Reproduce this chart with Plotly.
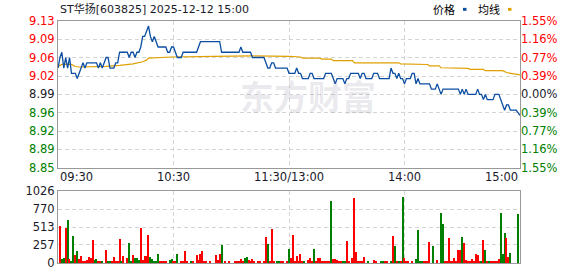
import plotly.graph_objects as go

# ---------------- data ----------------
title_text = "ST华扬[603825] 2025-12-12 15:00"
prev_close = 8.99
max_pct = 1.55

# price line keypoints (minutes since 09:30, lunch removed; 120 = 11:30/13:00)
price_t = [0, 1, 2, 3, 4, 5, 6, 7, 9, 10, 11, 12, 13, 14, 15, 20, 21, 22, 23, 24,
           25, 26, 27, 29, 30, 31, 32, 36, 37, 38, 39, 40, 41, 42, 43, 44, 45, 46, 47, 48,
           49, 50, 51, 52, 56, 57, 58, 59, 60, 61, 62, 64, 65, 72, 73, 74, 84, 85, 94, 95,
           96, 100, 101, 107, 108, 109, 110, 111, 112, 113, 119, 120, 123, 124, 125, 126, 127, 130, 131, 132,
           133, 138, 139, 142, 143, 144, 145, 148, 149, 150, 151, 152, 156, 157, 158, 159, 160, 163, 164, 166,
           167, 172, 173, 174, 175, 176, 177, 178, 179, 180, 181, 183, 184, 185, 186, 187, 188, 193, 194, 196,
           197, 198, 199, 200, 208, 209, 210, 211, 212, 213, 217, 218, 219, 220, 221, 222, 223, 226, 227, 229,
           230, 231, 232, 233, 234, 235, 238, 240]
price_v = [9.04, 9.06, 9.07, 9.04, 9.06, 9.04, 9.06, 9.03, 9.03, 9.02, 9.03, 9.04, 9.05, 9.04, 9.05, 9.05, 9.04, 9.05, 9.04, 9.05,
           9.06, 9.06, 9.04, 9.04, 9.05, 9.05, 9.07, 9.07, 9.06, 9.07, 9.07, 9.06, 9.07, 9.07, 9.08, 9.10, 9.10, 9.11, 9.12, 9.10,
           9.09, 9.10, 9.09, 9.08, 9.08, 9.07, 9.07, 9.08, 9.08, 9.07, 9.06, 9.06, 9.07, 9.07, 9.08, 9.09, 9.09, 9.07, 9.07, 9.08,
           9.07, 9.07, 9.06, 9.06, 9.05, 9.04, 9.04, 9.05, 9.05, 9.04, 9.04, 9.03, 9.03, 9.04, 9.03, 9.03, 9.02, 9.02, 9.03, 9.03,
           9.02, 9.02, 9.03, 9.03, 9.02, 9.01, 9.02, 9.02, 9.01, 9.02, 9.02, 9.03, 9.03, 9.02, 9.03, 9.03, 9.02, 9.02, 9.03, 9.03,
           9.02, 9.02, 9.04, 9.03, 9.03, 9.02, 9.03, 9.02, 9.02, 9.01, 9.02, 9.02, 9.03, 9.03, 9.01, 9.02, 9.01, 9.01, 9.00, 9.00,
           9.01, 9.00, 8.99, 9.00, 9.00, 8.99, 9.00, 8.99, 9.00, 8.99, 8.99, 9.00, 8.99, 8.99, 8.98, 8.99, 8.98, 8.98, 8.99, 8.99,
           8.98, 8.97, 8.96, 8.97, 8.97, 8.96, 8.96, 8.95]

# average price line keypoints
avg_t = [0, 2, 7, 9, 11, 25, 32, 39, 44, 46, 47, 59, 81, 101, 120, 126, 127, 136, 137, 142, 143,
         153, 154, 177, 178, 180, 181, 192, 193, 198, 199, 208, 209, 213, 214, 221, 222, 231, 233, 238, 240]
avg_v = [9.043, 9.047, 9.047, 9.043, 9.042, 9.043, 9.045, 9.048, 9.052, 9.055, 9.059, 9.061, 9.062, 9.063, 9.062, 9.061, 9.059, 9.059, 9.057, 9.057, 9.054,
         9.054, 9.050, 9.050, 9.048, 9.048, 9.0467, 9.0467, 9.0443, 9.0443, 9.0406, 9.0406, 9.0393, 9.0393, 9.0375, 9.0375, 9.035, 9.035, 9.0315, 9.028, 9.027]

# volume bars (minute, volume, 1 = up/red, 0 = down/green)
vol_t = [1, 2, 3, 4, 5, 6, 7, 8, 9, 10, 11, 12, 13, 14, 15, 16, 17, 18, 19, 20,
         21, 22, 23, 25, 26, 27, 28, 29, 30, 31, 32, 33, 34, 36, 37, 38, 39, 40, 41, 42,
         43, 44, 45, 46, 47, 48, 49, 50, 51, 52, 53, 54, 55, 56, 58, 59, 60, 61, 62, 64,
         65, 66, 67, 69, 70, 72, 73, 74, 75, 76, 77, 79, 82, 83, 84, 85, 87, 89, 92, 93,
         94, 95, 96, 97, 98, 99, 100, 101, 102, 104, 105, 107, 108, 109, 110, 111, 112, 114, 115, 116,
         117, 119, 120, 121, 122, 123, 124, 125, 126, 127, 128, 130, 131, 132, 133, 134, 135, 136, 137, 138,
         139, 140, 141, 142, 143, 144, 145, 146, 147, 148, 149, 150, 151, 153, 154, 155, 156, 157, 158, 159,
         161, 164, 165, 168, 169, 170, 171, 173, 174, 175, 176, 177, 178, 179, 180, 181, 182, 184, 186, 187,
         188, 189, 190, 191, 192, 193, 195, 197, 199, 200, 201, 202, 203, 204, 205, 206, 207, 208, 209, 210,
         211, 212, 213, 214, 215, 216, 217, 218, 219, 220, 221, 222, 223, 224, 225, 226, 227, 228, 229, 230,
         231, 232, 233, 234, 235, 239]
vol_v = [522, 60, 74, 504, 615, 51, 18, 379, 115, 171, 60, 100, 18, 23, 46, 88, 74, 323, 46, 60,
         18, 18, 14, 185, 18, 28, 28, 88, 14, 18, 337, 28, 97, 74, 282, 14, 115, 74, 74, 46,
         504, 46, 100, 100, 393, 88, 51, 18, 28, 129, 28, 32, 18, 14, 46, 60, 18, 18, 129, 18,
         18, 171, 14, 18, 18, 115, 46, 129, 171, 18, 18, 14, 115, 37, 129, 254, 18, 18, 32, 18,
         18, 60, 32, 74, 88, 46, 32, 60, 14, 18, 18, 18, 365, 268, 14, 490, 14, 18, 18, 32,
         14, 14, 199, 74, 393, 18, 100, 18, 129, 18, 18, 46, 74, 18, 199, 18, 74, 74, 18, 18,
         18, 18, 18, 878, 60, 60, 46, 18, 18, 18, 18, 310, 18, 74, 933, 157, 32, 18, 18, 88,
         18, 46, 18, 18, 18, 32, 18, 18, 379, 240, 18, 18, 18, 947, 74, 18, 18, 18, 60, 476,
         18, 18, 18, 18, 18, 296, 240, 46, 711, 559, 18, 18, 351, 18, 18, 74, 32, 185, 185, 365,
         282, 46, 18, 18, 60, 18, 129, 115, 18, 18, 323, 185, 32, 18, 18, 18, 18, 18, 60, 711,
         129, 434, 351, 88, 143, 697]
vol_up = [1, 0, 0, 1, 0, 1, 0, 0, 1, 0, 1, 1, 1, 1, 1, 1, 1, 1, 0, 0,
          1, 1, 0, 1, 0, 0, 1, 1, 1, 1, 1, 0, 1, 1, 0, 0, 1, 0, 0, 0,
          1, 1, 1, 1, 1, 0, 0, 0, 0, 0, 1, 1, 1, 1, 0, 0, 1, 1, 0, 1,
          1, 1, 1, 0, 1, 1, 1, 1, 1, 1, 1, 1, 1, 1, 1, 0, 1, 1, 1, 1,
          1, 1, 1, 0, 0, 1, 1, 1, 1, 1, 1, 1, 1, 0, 1, 1, 1, 0, 0, 1,
          1, 1, 0, 1, 1, 1, 1, 1, 1, 1, 0, 1, 1, 1, 0, 1, 1, 1, 1, 1,
          1, 1, 1, 0, 1, 1, 1, 1, 1, 0, 0, 1, 1, 1, 1, 1, 1, 1, 1, 1,
          0, 1, 1, 0, 0, 1, 1, 0, 1, 0, 1, 0, 1, 0, 1, 1, 1, 1, 0, 0,
          0, 0, 1, 1, 1, 1, 0, 1, 0, 0, 1, 1, 1, 1, 1, 1, 1, 1, 1, 0,
          1, 1, 1, 1, 1, 1, 1, 1, 1, 0, 1, 0, 1, 0, 1, 1, 1, 1, 1, 0,
          0, 0, 1, 1, 0, 0]

time_ticks = [0, 60, 120, 180, 240]
time_labels = ["09:30", "10:30", "11:30/13:00", "14:00", "15:00"]
price_labels = ["8.85", "8.89", "8.92", "8.96", "8.99", "9.02", "9.06", "9.09", "9.13"]
pct_labels = ["1.55%", "1.16%", "0.77%", "0.39%", "0.00%", "0.39%", "0.77%", "1.16%", "1.55%"]
vol_ticks = [0, 257, 513, 770, 1026]
vol_labels = ["0", "257", "513", "770", "1026"]
legend_names = ["价格", "均线"]

# ---------------- styling ----------------
RED = "#ff0000"
GREEN = "#008000"
DARK = "#1a1a2a"
BLUE = "#0b4ea2"
GOLD = "#e0a000"
GRID = "#d4d4d4"
BORDER = "#999999"
FONT = "DejaVu Sans, Noto Sans CJK SC"

d = prev_close * max_pct / 100.0
price_ticks = [prev_close + d * (k - 4) / 4.0 for k in range(9)]
prange = [prev_close - d, prev_close + d]


def colour_for(k):
    if k < 4:
        return GREEN
    if k > 4:
        return RED
    return DARK


left_text = ['<span style="color:%s">%s</span>' % (colour_for(k), s) for k, s in enumerate(price_labels)]
right_text = ['<span style="color:%s">%s</span>' % (colour_for(k), s) for k, s in enumerate(pct_labels)]

fig = go.Figure()

fig.add_trace(go.Scatter(x=avg_t, y=avg_v, mode="lines", line=dict(color=GOLD, width=1.2),
                         xaxis="x", yaxis="y", hoverinfo="skip", showlegend=False))
fig.add_trace(go.Scatter(x=price_t, y=price_v, mode="lines", line=dict(color=BLUE, width=1.3),
                         xaxis="x", yaxis="y", hoverinfo="skip", showlegend=False))
fig.add_trace(go.Scatter(x=[time_ticks[0]], y=[prev_close], mode="markers", marker=dict(opacity=0),
                         xaxis="x", yaxis="y3", hoverinfo="skip", showlegend=False))
fig.add_trace(go.Bar(x=vol_t, y=vol_v, width=0.6,
                     marker=dict(color=[RED if u else GREEN for u in vol_up], line=dict(width=0)),
                     xaxis="x2", yaxis="y2", hoverinfo="skip", showlegend=False))

W, H = 578, 276
ml, mr, mt, mb = 58, 58, 21, 6
ph = H - mt - mb
pw = W - ml - mr


def py(Y):
    return (H - mb - Y) / ph


def px(X):
    return (X - ml) / pw


axis_common = dict(showline=True, linecolor=BORDER, linewidth=1, mirror=True, zeroline=False,
                   ticks="", fixedrange=True)

fig.update_layout(
    width=W, height=H,
    margin=dict(l=ml, r=mr, t=mt, b=mb, pad=0),
    paper_bgcolor="white", plot_bgcolor="white",
    font=dict(family=FONT, size=11, color=DARK),
    bargap=0,
    xaxis=dict(domain=[0, 1], anchor="y", range=[time_ticks[0], time_ticks[-1]],
               tickvals=time_ticks[1:-1], showticklabels=False, showgrid=True,
               gridcolor=GRID, griddash="4px,3px", gridwidth=1, **axis_common),
    yaxis=dict(domain=[py(172), 1], anchor="x", range=prange, tickvals=price_ticks,
               ticktext=left_text, showgrid=True, gridcolor=GRID, griddash="4px,3px",
               tickfont=dict(size=11.5, family=FONT), **axis_common),
    yaxis3=dict(overlaying="y", side="right", anchor="x", range=prange, tickvals=price_ticks,
                ticktext=right_text, showgrid=False, showline=False, zeroline=False,
                tickfont=dict(size=11.5, family=FONT), ticks="", fixedrange=True),
    xaxis2=dict(domain=[0, 1], anchor="y2", range=[time_ticks[0], time_ticks[-1]],
                tickvals=time_ticks[1:-1], showticklabels=False, showgrid=True,
                gridcolor=GRID, griddash="4px,3px", gridwidth=1, **axis_common),
    yaxis2=dict(domain=[0, py(196)], anchor="x2", range=[vol_ticks[0], vol_ticks[-1]],
                tickvals=vol_ticks, ticktext=vol_labels, showgrid=True, gridcolor=GRID,
                griddash="4px,3px", tickfont=dict(size=11.5, family=FONT, color=DARK), **axis_common),
)

annotations = []
# title
annotations.append(dict(text=title_text, xref="paper", yref="paper", x=px(58), y=py(9),
                        xanchor="left", yanchor="middle", showarrow=False,
                        font=dict(family=FONT, size=11, color=DARK)))
# time labels
anchors = ["left", "center", "center", "center", "right"]
for t, lab, a in zip(time_ticks, time_labels, anchors):
    annotations.append(dict(text=lab, xref="x", yref="paper", x=t, y=py(182),
                            xanchor=a, yanchor="middle", showarrow=False,
                            font=dict(family=FONT, size=11.5, color=DARK)))
# legend labels
annotations.append(dict(text=legend_names[0], xref="paper", yref="paper", x=px(431), y=py(9),
                        xanchor="left", yanchor="middle", showarrow=False,
                        font=dict(family="Noto Sans CJK SC", size=11, color="#000")))
annotations.append(dict(text=legend_names[1], xref="paper", yref="paper", x=px(476), y=py(9),
                        xanchor="left", yanchor="middle", showarrow=False,
                        font=dict(family="Noto Sans CJK SC", size=11, color="#000")))
# watermark
annotations.append(dict(text="<b>东方财富</b>", xref="paper", yref="paper", x=px(308), y=py(97.5),
                        xanchor="center", yanchor="middle", showarrow=False,
                        font=dict(family="Noto Sans CJK SC", size=34, color="rgba(120,120,150,0.16)")))
fig.update_layout(annotations=annotations)

shapes = [
    dict(type="rect", xref="paper", yref="paper", x0=px(463), x1=px(466.5), y0=py(10.5), y1=py(7.5),
         fillcolor=BLUE, line=dict(width=0)),
    dict(type="rect", xref="paper", yref="paper", x0=px(508), x1=px(511.5), y0=py(10.5), y1=py(7.5),
         fillcolor=GOLD, line=dict(width=0)),
]
fig.update_layout(shapes=shapes)

fig.write_html("out.html")
